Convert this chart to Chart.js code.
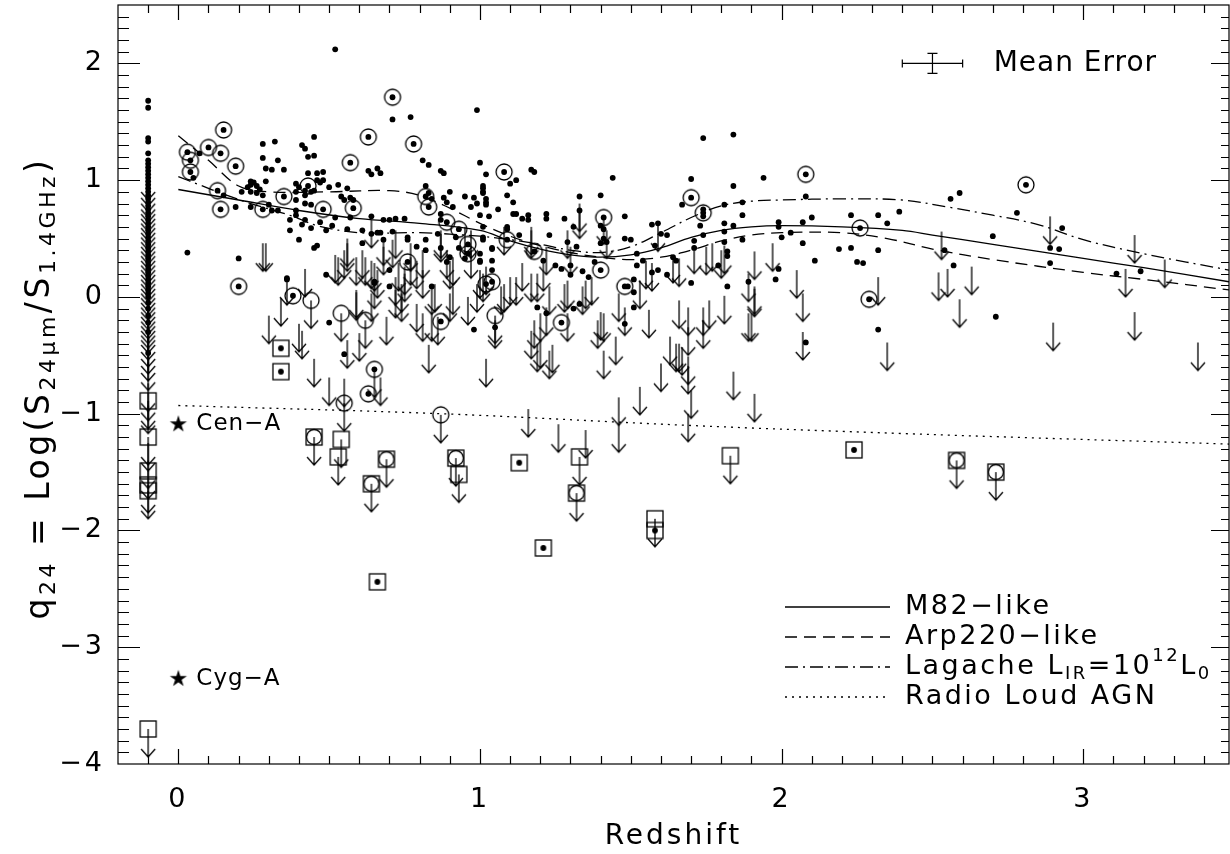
<!DOCTYPE html>
<html>
<head>
<meta charset="utf-8">
<title>q24 vs redshift</title>
<script src="https://cdn.jsdelivr.net/npm/chart.js@4.4.0/dist/chart.umd.min.js"></script>
<style>
  html, body { margin: 0; padding: 0; background: #fff; }
  #q24 { display: block; }
</style>
</head>
<body>
<canvas id="q24" width="1230" height="854"></canvas>
<script>
// axis ticks
const xTicks = [0, 1, 2, 3];
const yTicks = [-4, -3, -2, -1, 0, 1, 2];

// detections (redshift, q24)
const dets = [
  [0.52,2.12],[0.71,1.52],[0.77,1.54],[0.99,1.60],[0.07,1.23],[0.05,1.02],
  [0.28,1.31],[0.32,1.33],[0.28,1.19],[0.33,1.17],[0.29,1.10],[0.31,1.09],[0.35,1.09],[0.29,0.99],
  [0.45,1.37],[0.41,1.30],[0.42,1.27],[0.43,1.20],[0.45,1.21],
  [0.63,1.08],[0.64,1.05],[0.66,1.10],[0.67,1.06],
  [0.81,1.17],[0.83,1.13],[0.87,1.08],[0.88,1.06],[1.00,1.15],[1.02,1.05],
  [0.43,1.06],[0.46,1.06],[0.48,1.07],[0.46,1.00],[0.47,0.98],[0.48,1.00],
  [0.24,0.99],[0.25,0.98],[0.24,0.96],[0.26,0.95],[0.23,0.94],[0.24,0.90],[0.27,0.92],[0.26,0.89],[0.21,0.90],[0.28,0.87],
  [0.15,0.87],[0.19,0.77],[0.24,0.77],[0.30,0.79],[0.31,0.74],[0.33,0.74],
  [0.39,0.97],[0.40,0.94],[0.39,0.90],[0.42,0.91],[0.44,0.90],[0.45,0.91],[0.42,0.87],
  [0.39,0.83],[0.42,0.80],[0.44,0.79],[0.39,0.74],
  [0.50,0.94],[0.53,0.96],[0.56,0.93],[0.54,0.86],[0.55,0.83],[0.57,0.85],[0.58,0.83],
  [0.52,0.68],[0.57,0.68],
  [0.37,0.66],[0.39,0.70],[0.42,0.66],[0.41,0.62],[0.37,0.57],[0.40,0.49],[0.44,0.59],[0.47,0.64],[0.49,0.57],[0.51,0.61],[0.56,0.58],
  [0.45,0.42],[0.46,0.44],[0.03,0.38],[0.20,0.33],
  [0.64,0.69],[0.68,0.66],[0.70,0.66],[0.72,0.67],[0.75,0.67],
  [0.61,0.57],[0.64,0.54],[0.66,0.55],[0.67,0.55],[0.71,0.56],
  [0.61,0.46],[0.68,0.49],[0.76,0.51],[0.76,0.49],[0.70,0.23],
  [0.79,0.43],[0.82,0.40],[0.82,0.49],[0.82,0.95],[0.83,0.89],[0.84,0.84],
  [0.90,0.90],[0.88,0.85],[0.89,0.81],[0.91,0.77],[0.87,0.71],[0.87,0.66],
  [0.95,0.86],[0.98,0.85],[0.99,0.80],[1.02,0.84],[1.01,0.90],[1.01,0.95],[1.00,0.70],[1.03,0.69],
  [0.92,0.51],[0.93,0.42],[0.95,0.33],[1.00,0.30],[1.04,0.41],[1.01,0.51],
  [0.87,0.42],[0.90,0.34],[0.89,0.30],[0.86,0.54],
  [0.49,0.19],[0.36,0.15],[0.65,0.12],[0.70,0.09],[1.00,0.37],
  [1.09,0.87],[1.11,0.81],[1.10,0.97],[1.12,1.00],[1.17,1.09],[1.18,1.07],
  [1.16,0.70],[1.16,0.66],[1.11,0.71],[1.12,0.71],[1.06,0.75],
  [1.04,0.42],[1.04,0.31],[1.00,0.31],[1.01,0.93],[1.01,0.89],[1.02,0.81],[1.02,0.79],[0.97,0.77],[1.01,0.60],[1.01,0.49],
  [1.09,0.58],[1.09,0.60],[1.13,0.53],
  [1.22,0.67],[1.14,0.67],[1.22,0.71],[1.28,0.67],[1.33,0.86],[1.33,0.74],[1.31,0.60],[1.23,0.53],
  [1.40,0.87],[1.48,0.69],[1.40,0.61],[1.41,0.58],[1.48,0.50],[1.50,0.49],
  [1.57,0.62],[1.59,0.63],[1.60,0.54],[1.62,0.53],[1.58,0.44],
  [1.67,0.79],[1.74,0.75],[1.74,0.69],[1.73,0.61],[1.74,0.53],
  [1.81,0.79],[1.87,0.81],[1.87,0.70],[1.81,0.63],[1.84,0.61],[1.81,0.56],[1.81,0.47],
  [1.71,0.48],[1.71,0.42],[1.84,0.95],[1.87,0.49],
  [1.99,0.64],[1.99,0.60],[2.03,0.55],[2.00,0.51],[2.07,0.64],[2.08,0.86],[2.07,0.46],
  [1.99,0.24],[1.98,0.15],[1.82,0.09],[2.08,-0.39],
  [1.82,0.39],[1.82,0.35],[1.79,0.27],[1.65,0.31],[1.64,0.34],[1.70,0.12],[1.62,0.19],[1.59,0.23],[1.57,0.21],
  [1.52,0.37],[1.54,0.31],[1.52,0.27],[1.51,0.15],[1.49,0.09],[1.51,0.04],[1.51,-0.09],[1.48,-0.23],
  [1.34,0.22],[1.36,0.17],[1.38,0.30],
  [1.31,-0.10],[1.33,-0.06],[1.19,-0.09],[1.22,-0.14],[1.05,-0.26],[1.04,0.23],
  [1.21,0.31],[1.25,0.27],[1.27,0.24],[1.30,0.27],[1.30,0.19],[1.29,0.47],[1.32,0.43],
  [1.40,0.46],[1.41,0.50],[1.42,0.47],
  [1.74,1.36],[1.84,1.39],[1.94,1.02],[1.70,1.01],[1.44,1.02],
  [2.10,0.68],[2.23,0.70],[2.32,0.70],[2.35,0.63],[2.39,0.73],[2.19,0.41],[2.23,0.42],[2.32,0.40],[2.11,0.31],[2.25,0.30],[2.27,0.29],
  [1.89,0.13],
  [2.56,0.84],[2.59,0.89],[2.78,0.72],[2.70,0.52],[2.93,0.59],[2.89,0.42],[2.92,0.41],[2.89,0.29],[2.54,0.40],[2.57,0.27],[3.11,0.20],[3.19,0.22],
  [2.71,-0.17],[2.32,-0.28],
  [0.50,-0.22],[0.55,-0.49],[0.98,-0.28],[0.84,0.09],[0.65,0.13],[0.36,0.16]
];

// detections marked with a circle
const ringDets = [
  [0.15,1.43],[0.03,1.24],[0.10,1.28],[0.14,1.23],[0.04,1.17],[0.04,1.07],[0.19,1.12],[0.57,1.15],[0.63,1.37],[0.78,1.31],[0.71,1.71],[1.08,1.07],
  [0.13,0.91],[0.14,0.75],[0.28,0.75],[0.35,0.86],[0.43,0.95],[0.48,0.75],[0.58,0.76],[0.82,0.86],[0.83,0.77],[0.89,0.64],[0.93,0.58],
  [0.96,0.45],[0.96,0.37],[0.76,0.30],[1.04,0.13],[1.02,0.11],[0.38,0.01],[0.20,0.09],
  [1.09,0.49],[1.18,0.39],[1.41,0.68],[1.70,0.85],[1.74,0.72],[1.40,0.23],[1.48,0.09],[1.27,-0.22],[2.08,1.05],[2.26,0.59],[2.29,-0.02],[2.81,0.96],
  [0.87,-0.21],[0.63,-0.83],[0.65,-0.62]
];

// upper limits (arrow starts at the value)
const limits = [
  [0.28,0.46],[0.29,0.46],[0.36,0.17],[0.42,0.24],[0.52,0.36],[0.53,0.34],[0.55,0.40],[0.56,0.50],[0.59,0.34],[0.61,0.40],
  [0.64,0.66],[0.65,0.29],[0.66,0.23],[0.68,0.51],[0.71,0.49],[0.72,0.17],[0.74,0.11],[0.75,0.20],[0.77,0.46],[0.79,0.31],
  [0.81,0.23],[0.85,0.11],[0.87,0.57],[0.89,0.40],[0.91,0.34],[0.95,0.60],[0.97,0.40],[1.00,0.23],[1.01,0.20],[1.02,0.26],
  [0.56,0.46],[0.59,0.06],[0.62,0.34],[0.64,0.31],[0.65,0.14],[0.68,0.43],[0.72,0.57],[0.73,0.29],[0.75,0.26],[0.77,0.34],
  [0.81,0.40],[0.84,0.09],[0.87,0.54],[0.90,0.31],[0.97,0.57],[0.99,0.11],[1.08,0.60],[1.17,0.57],
  [1.17,0.60],[1.22,0.43],[1.29,0.57],[1.30,0.43],[1.33,0.80],[1.33,0.74],[1.41,0.69],[1.42,0.57],[1.59,0.63],[1.55,0.31],
  [1.57,0.29],[1.64,0.36],[1.66,0.33],[1.71,0.44],[1.75,0.43],[1.77,0.46],[1.80,0.40],[1.81,0.44],[1.91,0.39],[1.97,0.46],
  [1.89,0.20],[1.91,0.09],[1.89,-0.14],[1.90,-0.14],[1.81,0.01],[1.76,-0.03],[1.74,-0.09],[1.69,-0.09],[1.69,-0.26],[1.66,-0.03],
  [1.63,-0.34],[1.65,-0.40],[1.66,-0.40],[1.67,-0.43],[1.69,-0.51],[1.60,-0.57],[1.56,-0.11],[1.46,0.03],[1.48,-0.09],[1.53,0.14],
  [1.45,-0.34],[1.41,-0.14],[1.39,-0.20],[1.41,-0.46],[1.34,0.09],[1.35,0.14],[1.37,0.17],[1.28,0.11],[1.29,0.14],[1.23,0.09],
  [1.22,-0.09],[1.20,-0.14],[1.18,-0.20],[1.17,-0.29],[1.19,-0.40],[1.23,-0.46],[1.14,0.29],[1.17,0.20],[1.19,0.20],[1.21,0.29],
  [1.10,0.17],[1.12,0.17],[1.08,0.11],[1.07,0.09],[1.05,-0.20],[2.05,0.23],[2.07,0.03],[2.07,-0.30],
  [1.20,-0.37],[1.24,-0.41],[1.29,-0.14],[1.40,-0.13],[1.53,-0.77],[1.70,-0.80],[1.69,-1.00],[1.74,-0.20],[1.84,-0.64],[1.91,-0.83],
  [1.91,0.07],[2.35,-0.39],[1.16,-0.96],[1.26,-1.09],[1.35,-1.14],[1.46,-0.86],[1.46,-1.09],[1.69,-0.59],[2.32,0.17],
  [2.89,0.69],[2.53,0.56],[3.17,0.53],[3.27,0.32],[3.14,0.24],[2.52,0.21],[2.55,0.24],[2.63,0.26],
  [2.59,-0.02],[2.90,-0.22],[3.17,-0.13],[3.38,-0.39],
  [0.34,-0.01],[0.30,-0.16],[0.40,-0.23],[0.41,-0.29],[0.45,-0.53],[0.50,-0.69],[0.55,-0.70],[0.56,-0.37],[0.60,-0.31],[0.59,0.04],
  [0.64,0.03],[0.69,-0.17],[0.67,-0.69],[0.72,0.06],[0.74,0.03],[0.79,-0.06],[0.81,-0.14],[0.84,-0.14],[0.86,-0.17],[0.83,-0.41],
  [0.91,0.09],[0.90,0.03],[0.96,0.00],[1.02,-0.53],[0.65,-0.62]
];
const ringLimits = [[0.44,-0.03],[0.54,-0.14],[0.62,-0.20],[0.55,-0.91],[0.87,-1.01],[1.05,-0.16]];
const boxDets = [[0.34,-0.44],[0.34,-0.64],[1.13,-1.42],[1.21,-2.15],[2.24,-1.31],[0.66,-2.44],[1.58,-2.00]];
const boxLimits = [[0.54,-1.22],[0.53,-1.37],[0.93,-1.52],[1.33,-1.37],[1.83,-1.36],[1.58,-1.90]];
const boxRingLimits = [[0.45,-1.20],[0.69,-1.39],[0.64,-1.60],[0.92,-1.38],[1.32,-1.68],[2.58,-1.40],[2.71,-1.50]];

// sources without redshift, plotted in a column at z = -0.1
const colZ = -0.1;
const colDets = [1.68,1.62,1.36,1.33,1.23,1.17,1.14,1.11,1.08,1.05,1.02,0.99,0.96,0.93,0.90,0.87,0.84,0.81,0.78,0.75,0.72,0.69,0.66,0.63,
  0.60,0.57,0.54,0.51,0.48,0.45,0.42,0.39,0.36,0.33,0.30,0.27,0.24,0.21,0.18,0.15,0.12,0.09,0.06,0.03,0.00,-0.05,-0.10,-0.16,-0.22,-0.30,-0.48];
const colLimits = [1.07,1.02,0.97,0.92,0.88,0.84,0.80,0.76,0.72,0.68,0.64,0.60,0.56,0.52,0.48,0.44,0.40,0.36,0.32,0.28,0.24,0.20,0.16,0.12,
  0.08,0.04,0.00,-0.04,-0.08,-0.12,-0.16,-0.20,-0.24,-0.30,-0.36,-0.42,-0.48,-0.56,-0.74,-0.82,-0.93,-1.25,-1.40];
const colBoxLimits = [-0.89,-1.20,-1.49,-1.61,-1.66,-3.70];

// local radio galaxies
const starNames = ['Cen\u2212A', 'Cyg\u2212A'];
const starZ = [0, 0];
const starQ = [-1.09, -3.27];

// model tracks
const m82 = [[0,0.92],[0.2,0.83],[0.4,0.74],[0.6,0.67],[0.8,0.63],[1.0,0.57],[1.1,0.48],[1.2,0.41],[1.3,0.36],[1.4,0.34],[1.5,0.36],
  [1.6,0.42],[1.7,0.51],[1.8,0.57],[1.9,0.60],[2.0,0.61],[2.2,0.60],[2.4,0.57],[2.5,0.53],[2.7,0.45],[3.0,0.33],[3.2,0.25],[3.483,0.13]];
const arp220 = [[0,1.38],[0.1,1.17],[0.2,0.95],[0.3,0.90],[0.5,0.90],[0.7,0.91],[0.8,0.87],[0.9,0.76],[1.0,0.63],[1.1,0.52],[1.2,0.44],
  [1.3,0.38],[1.4,0.34],[1.5,0.32],[1.6,0.34],[1.7,0.40],[1.8,0.48],[1.9,0.53],[2.0,0.55],[2.2,0.55],[2.35,0.50],[2.5,0.41],[2.7,0.32],
  [3.0,0.21],[3.2,0.15],[3.483,0.06]];
const lagache = [[0,1.03],[0.07,0.96],[0.15,0.88],[0.24,0.80],[0.38,0.69],[0.46,0.61],[0.6,0.55],[0.8,0.55],[1.0,0.52],[1.1,0.49],
  [1.2,0.45],[1.3,0.40],[1.4,0.38],[1.5,0.43],[1.6,0.55],[1.7,0.68],[1.8,0.78],[1.9,0.82],[2.0,0.83],[2.2,0.84],[2.4,0.83],[2.55,0.77],
  [2.7,0.70],[2.85,0.62],[3.0,0.49],[3.2,0.37],[3.483,0.23]];
const radioLoud = [[0,-0.93],[0.87,-1.00],[1.69,-1.10],[2.4,-1.17],[3.483,-1.26]];

// mean error bar
const meanErr = { z: 2.5, q: 2.0, dz: 0.1, dq: 0.086 };

const ink = '#000';
const fam = '"DejaVu Sans", "Liberation Sans", sans-serif';

function marker(parts) {
  const c = document.createElement('canvas');
  c.width = 28; c.height = 80;
  const g = c.getContext('2d');
  const cx = 14, cy = 40;
  g.strokeStyle = ink; g.fillStyle = ink; g.lineWidth = 1.3;
  if (parts.includes('box')) g.strokeRect(cx - 8, cy - 8, 16, 16);
  if (parts.includes('ring')) { g.beginPath(); g.arc(cx, cy, parts.includes('box') ? 7.5 : 8, 0, Math.PI * 2); g.stroke(); }
  if (parts.includes('dot')) { g.beginPath(); g.arc(cx, cy, 2.9, 0, Math.PI * 2); g.fill(); }
  if (parts.includes('arrow')) {
    g.beginPath();
    g.moveTo(cx, cy); g.lineTo(cx, cy + 28);
    g.moveTo(cx - 7, cy + 20); g.lineTo(cx, cy + 28); g.lineTo(cx + 7, cy + 20);
    g.stroke();
  }
  if (parts.includes('star')) {
    g.beginPath();
    for (let i = 0; i < 10; i++) {
      const r = i % 2 ? 3.4 : 9;
      const a = -Math.PI / 2 + i * Math.PI / 5;
      g.lineTo(cx + r * Math.cos(a), cy + r * Math.sin(a));
    }
    g.closePath(); g.fill();
  }
  return c;
}

const pts = list => list.map(p => ({ x: p[0], y: p[1] }));
const col = list => list.map(q => ({ x: colZ, y: q }));

function marks(label, data, style) {
  return { label, data, pointStyle: style, pointRadius: 8, pointHoverRadius: 8, borderWidth: 0 };
}
function track(label, data, dash) {
  return { label, data: pts(data), showLine: true, borderColor: ink, borderWidth: 1.3, borderDash: dash,
           pointRadius: 0, pointHoverRadius: 0, tension: 0.35, fill: false };
}

const arrowMk = marker(['arrow']);
const ringMk = marker(['ring']);
const ringLimMk = marker(['ring', 'arrow']);
const boxDotMk = marker(['box', 'dot']);
const boxLimMk = marker(['box', 'arrow']);
const boxRingLimMk = marker(['box', 'ring', 'arrow']);
const starMk = marker(['star']);

function richText(g, x, y, runs, size) {
  let px = x;
  runs.forEach(([t, k]) => {
    const s = k ? Math.round(size * 0.66) : size;
    g.font = s + 'px ' + fam;
    const dy = k === 'sub' ? size * 0.28 : (k === 'sup' ? -size * 0.38 : 0);
    g.fillText(t, px, y + dy);
    px += g.measureText(t).width;
  });
  return px - x;
}
function richWidth(g, runs, size) {
  let w = 0;
  runs.forEach(([t, k]) => {
    g.font = (k ? Math.round(size * 0.66) : size) + 'px ' + fam;
    w += g.measureText(t).width;
  });
  return w;
}

const frame = {
  id: 'frame',
  beforeDraw(chart) {
    chart.ctx.letterSpacing = '3px';
  },
  afterDraw(chart) {
    const g = chart.ctx, a = chart.chartArea, xs = chart.scales.x, ys = chart.scales.y;
    g.save();
    g.strokeStyle = ink; g.lineWidth = 1.2;
    g.strokeRect(a.left, a.top, a.right - a.left, a.bottom - a.top);
    g.beginPath();
    for (let i = -1; i <= 34; i++) {
      const px = Math.round(xs.getPixelForValue(i / 10)) + 0.5;
      const big = i % 10 === 0;
      g.moveTo(px, a.bottom); g.lineTo(px, a.bottom - (big ? 15 : 8));
      g.moveTo(px, a.top); g.lineTo(px, a.top + (big ? 15 : 8));
    }
    for (let i = -39; i <= 24; i++) {
      const py = Math.round(ys.getPixelForValue(i / 10)) + 0.5;
      const big = i % 10 === 0;
      g.moveTo(a.left, py); g.lineTo(a.left + (big ? 22 : 11), py);
      g.moveTo(a.right, py); g.lineTo(a.right - (big ? 18 : 8), py);
    }
    g.stroke();

    // mean error
    const ex = xs.getPixelForValue(meanErr.z), ey = ys.getPixelForValue(meanErr.q);
    const x0 = xs.getPixelForValue(meanErr.z - meanErr.dz), x1 = xs.getPixelForValue(meanErr.z + meanErr.dz);
    const y0 = ys.getPixelForValue(meanErr.q + meanErr.dq), y1 = ys.getPixelForValue(meanErr.q - meanErr.dq);
    g.beginPath();
    g.moveTo(x0, ey); g.lineTo(x1, ey);
    g.moveTo(x0, ey - 4); g.lineTo(x0, ey + 4);
    g.moveTo(x1, ey - 4); g.lineTo(x1, ey + 4);
    g.moveTo(ex, y0); g.lineTo(ex, y1);
    g.moveTo(ex - 5, y0); g.lineTo(ex + 5, y0);
    g.moveTo(ex - 5, y1); g.lineTo(ex + 5, y1);
    g.stroke();

    g.fillStyle = ink;
    g.textBaseline = 'middle';
    g.textAlign = 'left';
    g.letterSpacing = '1px';
    g.font = '28px ' + fam;
    g.fillText('Mean Error', x1 + 31, ey);

    // radio galaxy names
    g.font = '23px ' + fam;
    starNames.forEach((n, i) => {
      g.fillText(n, xs.getPixelForValue(starZ[i]) + 18, ys.getPixelForValue(starQ[i]));
    });

    // legend
    const rows = [
      { dash: [], runs: [['M82\u2212like', '']] },
      { dash: [12, 7], runs: [['Arp220\u2212like', '']] },
      { dash: [13, 5, 2, 5], runs: [['Lagache L', ''], ['IR', 'sub'], ['=10', ''], ['12', 'sup'], ['L', ''], ['0', 'sub']] },
      { dash: [2, 5], runs: [['Radio Loud AGN', '']] }
    ];
    g.letterSpacing = '2.5px';
    rows.forEach((r, i) => {
      const ly = 607 + i * 30;
      g.setLineDash(r.dash);
      g.lineWidth = 1.3;
      g.beginPath(); g.moveTo(785, ly); g.lineTo(890, ly); g.stroke();
      g.setLineDash([]);
      richText(g, 905, ly, r.runs, 27);
    });

    // y title
    const title = [['q', ''], ['24', 'sub'], [' = Log(S', ''], ['24\u03bcm', 'sub'], ['/S', ''], ['1.4GHz', 'sub'], [')', '']];
    g.save();
    g.letterSpacing = '3.5px';
    g.translate(40, 388);
    g.rotate(-Math.PI / 2);
    const w = richWidth(g, title, 33);
    richText(g, -w / 2, 0, title, 33);
    g.restore();
    g.restore();
  }
};

const chart = new Chart(document.getElementById('q24'), {
  type: 'scatter',
  data: {
    datasets: [
      marks('detections', pts(dets).concat(pts(ringDets)), 'circle'),
      marks('circled', pts(ringDets), ringMk),
      marks('limits', pts(limits), arrowMk),
      marks('circled limits', pts(ringLimits), ringLimMk),
      marks('box detections', pts(boxDets), boxDotMk),
      marks('box limits', pts(boxLimits), boxLimMk),
      marks('box circled limits', pts(boxRingLimits), boxRingLimMk),
      marks('no-z detections', col(colDets), 'circle'),
      marks('no-z limits', col(colLimits), arrowMk),
      marks('no-z box limits', col(colBoxLimits), boxLimMk),
      marks('radio galaxies', starZ.map((z, i) => ({ x: z, y: starQ[i] })), starMk),
      track('M82-like', m82, []),
      track('Arp220-like', arp220, [12, 7]),
      track('Lagache', lagache, [13, 5, 2, 5]),
      track('Radio Loud AGN', radioLoud, [2, 5])
    ].map(d => {
      if (d.pointStyle === 'circle') { d.pointRadius = 2.9; d.backgroundColor = ink; d.borderColor = ink; }
      return d;
    })
  },
  options: {
    responsive: false,
    animation: false,
    layout: { autoPadding: false, padding: { left: 0, top: 5, right: 1, bottom: 0 } },
    plugins: { legend: { display: false }, tooltip: { enabled: false } },
    scales: {
      x: {
        type: 'linear', min: -0.2, max: 3.483,
        grid: { display: false, drawTicks: false },
        border: { display: false },
        afterBuildTicks: s => { s.ticks = xTicks.map(v => ({ value: v })); },
        afterFit: s => { s.height = 90; s.paddingLeft = 0; s.paddingRight = 0; },
        ticks: { color: ink, padding: 20, font: { family: fam, size: 27 } },
        title: { display: true, text: 'Redshift', color: ink, font: { family: fam, size: 28 }, padding: { top: 0, bottom: 0 } }
      },
      y: {
        type: 'linear', min: -4, max: 2.5,
        grid: { display: false, drawTicks: false },
        border: { display: false },
        afterBuildTicks: s => { s.ticks = yTicks.map(v => ({ value: v })); },
        afterFit: s => { s.width = 118; s.paddingTop = 0; s.paddingBottom = 0; },
        ticks: {
          color: ink, padding: 13, font: { family: fam, size: 27 },
          callback: v => (v < 0 ? '\u2212' + (-v) : String(v))
        }
      }
    }
  },
  plugins: [frame]
});
</script>
</body>
</html>
